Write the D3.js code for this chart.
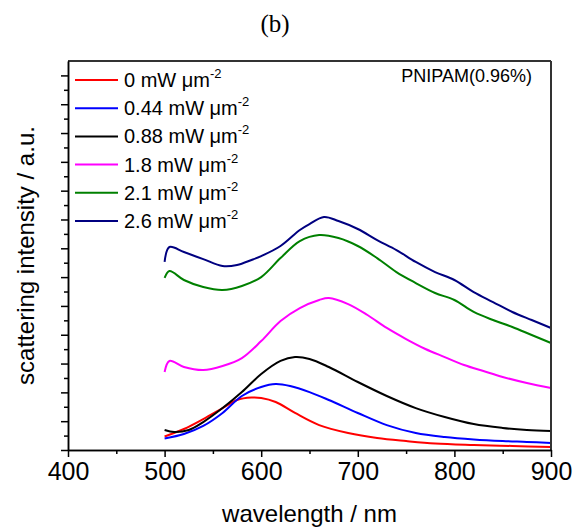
<!DOCTYPE html>
<html><head><meta charset="utf-8">
<script src="https://cdn.jsdelivr.net/npm/d3@7"></script>
<style>body{margin:0;background:#fff}text{font-family:"Liberation Sans",Arial,sans-serif}</style>
</head><body><svg id="c" width="584" height="532"></svg>
<script>
const seriesNames = ["0 mW μm", "0.44 mW μm", "0.88 mW μm", "1.8 mW μm", "2.1 mW μm", "2.6 mW μm"];
const seriesColors = ["#ff0000", "#0000ff", "#000000", "#ff00ff", "#008000", "#000080"];
const xTicks = [400, 500, 600, 700, 800, 900];

const red = [[500,0.94],[520,1.46],[540,2.15],[560,2.91],[575,3.47],[590,3.64],[600,3.61],[615,3.33],[635,2.57],[660,1.73],[690,1.18],[720,0.83],[750,0.62],[780,0.45],[820,0.35],[860,0.28],[900,0.21]];
const blue = [[500,0.8],[520,1.11],[540,1.67],[560,2.57],[580,3.75],[600,4.37],[615,4.58],[630,4.44],[650,4.02],[670,3.47],[700,2.57],[730,1.73],[760,1.18],[790,0.9],[820,0.73],[850,0.62],[875,0.56],[900,0.49]];
const black = [[500,1.39],[510,1.25],[525,1.39],[540,1.94],[560,2.91],[580,4.02],[600,5.27],[620,6.18],[635,6.45],[650,6.32],[670,5.76],[700,4.72],[730,3.75],[760,2.91],[790,2.29],[820,1.8],[850,1.53],[875,1.39],[900,1.32]];
const magenta = [[500,5.41],[505,6.18],[520,5.76],[540,5.55],[560,5.83],[580,6.38],[600,7.56],[620,8.95],[640,9.85],[660,10.41],[670,10.55],[690,10.13],[710,9.37],[730,8.47],[750,7.7],[770,7.01],[790,6.45],[810,5.9],[830,5.48],[850,5.07],[875,4.65],[900,4.3]];
const green = [[500,11.94],[505,12.42],[520,11.8],[540,11.31],[560,11.1],[580,11.38],[600,12.0],[620,13.32],[640,14.5],[660,14.92],[680,14.71],[700,14.16],[720,13.32],[740,12.35],[760,11.59],[780,10.9],[800,10.41],[820,9.58],[840,9.02],[860,8.54],[880,7.98],[900,7.43]];
const navy = [[500,13.05],[505,14.09],[520,13.74],[540,13.25],[560,12.77],[575,12.84],[590,13.19],[600,13.46],[620,14.16],[640,15.27],[650,15.68],[665,16.17],[680,15.89],[700,15.34],[720,14.57],[740,13.88],[760,13.05],[780,12.35],[800,11.8],[820,10.96],[840,10.27],[860,9.58],[880,9.02],[900,8.47]];
const seriesData = [red, blue, black, magenta, green, navy];

const svg = d3.select("#c");
const L = 68, R = 551, T = 61, B = 450;
const x = d3.scaleLinear().domain([400, 900]).range([L, R]);
const y = d3.scaleLinear().domain([0, 27]).range([B, T]);

// title
svg.append("text").attr("x", 275).attr("y", 32).attr("text-anchor", "middle")
  .style("font-family", "'Liberation Serif','Times New Roman',serif").style("font-size", "25px").text("(b)");

// curves
const line = d3.line().x(d => x(d[0])).y(d => y(d[1])).curve(d3.curveCatmullRom.alpha(0.5));
seriesData.forEach((s, i) => {
  svg.append("path").datum(s).attr("d", line).attr("fill", "none")
    .attr("stroke", seriesColors[i]).attr("stroke-width", 2);
});

// frame top/right
svg.append("line").attr("x1", L).attr("x2", R).attr("y1", T).attr("y2", T).attr("stroke", "#333").attr("stroke-width", 2);
svg.append("line").attr("x1", R).attr("x2", R).attr("y1", T).attr("y2", B).attr("stroke", "#333").attr("stroke-width", 2);

// x axis
const xMinor = d3.range(450, 900, 100);
const gx = svg.append("g").attr("transform", `translate(0,${B})`);
gx.call(d3.axisBottom(x).tickValues(xTicks).tickSize(7).tickPadding(5).tickSizeOuter(0));
gx.append("g").call(d3.axisBottom(x).tickValues(xMinor).tickSize(4).tickFormat("").tickSizeOuter(0));
gx.selectAll("path.domain").attr("stroke", "#000").attr("stroke-width", 1.5);
gx.selectAll(".tick line").attr("stroke", "#000").attr("stroke-width", 1.5);
gx.selectAll(".tick text").style("font-size", "25px").style("font-family", "'Liberation Sans',Arial,sans-serif").attr("fill", "#000");

// y axis (no labels)
const gy = svg.append("g").attr("transform", `translate(${L},0)`);
gy.call(d3.axisLeft(y).tickValues(d3.range(0, 27, 2)).tickSize(7).tickFormat("").tickSizeOuter(0));
gy.append("g").call(d3.axisLeft(y).tickValues(d3.range(1, 27, 2)).tickSize(4).tickFormat("").tickSizeOuter(0));
gy.selectAll("path.domain").attr("stroke", "#000").attr("stroke-width", 1.5);
gy.selectAll(".tick line").attr("stroke", "#000").attr("stroke-width", 1.5);

// axis titles
svg.append("text").attr("x", (L + R) / 2).attr("y", 522).attr("text-anchor", "middle")
  .style("font-size", "24px").text("wavelength / nm");
svg.append("text").attr("transform", `translate(34,${(T + B) / 2}) rotate(-90)`).attr("text-anchor", "middle")
  .style("font-size", "24px").text("scattering intensity / a.u.");

// legend
seriesNames.forEach((n, i) => {
  const yy = 80 + i * 28.2;
  svg.append("line").attr("x1", 75).attr("x2", 118).attr("y1", yy).attr("y2", yy)
    .attr("stroke", seriesColors[i]).attr("stroke-width", 2);
  const t = svg.append("text").attr("x", 124).attr("y", yy + 7).style("font-size", "20px");
  t.append("tspan").text(n);
  t.append("tspan").attr("dy", -9).style("font-size", "13px").text("-2");
});

// annotation
svg.append("text").attr("x", 532).attr("y", 82).attr("text-anchor", "end")
  .style("font-size", "18px").text("PNIPAM(0.96%)");
</script></body></html>
